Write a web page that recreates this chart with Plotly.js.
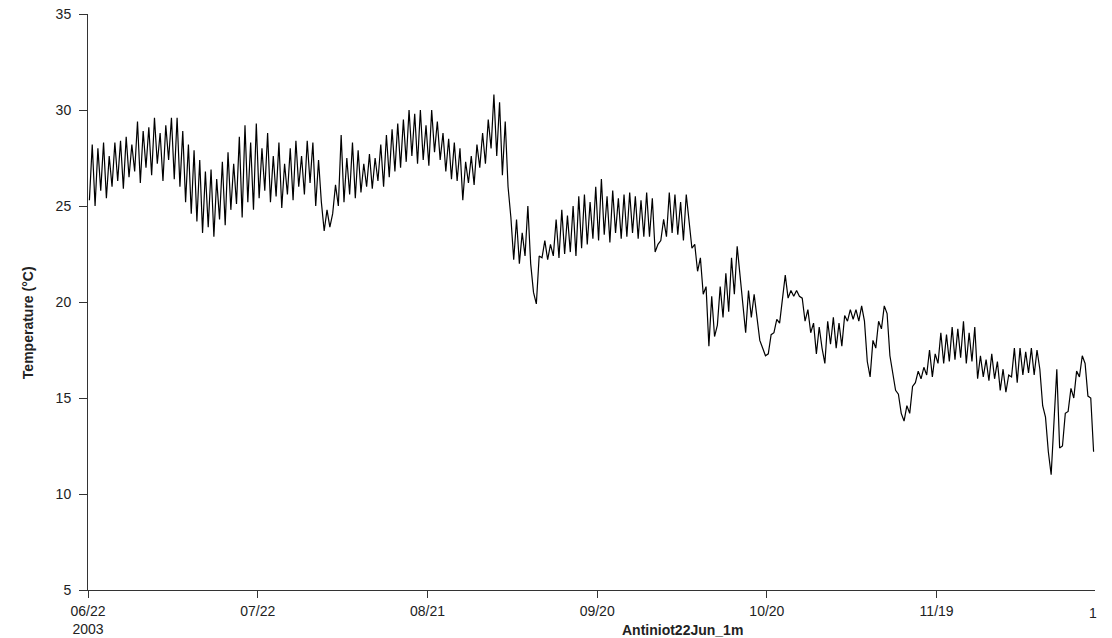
<!DOCTYPE html>
<html>
<head>
<meta charset="utf-8">
<script src="https://cdn.plot.ly/plotly-3.0.1.min.js"></script>
<style>html,body{margin:0;padding:0;background:#fff;}#chart{width:1112px;height:638px;}</style>
</head>
<body>
<div id="chart"></div>
<script>
// Series start and sampling (two readings per day: 06:00 and 18:00)
const startDate = "2003-06-22";
const stepHours = 12;
const firstOffsetHours = 6;

// Temperature (°C), two values per day
const temperature = [
  25.3,28.2, 25.0,28.0, 25.8,28.3, 25.4,27.6, 26.0,28.3,
  26.3,28.4, 25.9,28.6, 26.5,28.2, 26.8,29.4, 26.2,28.9,
  27.0,29.1, 26.6,29.6, 27.2,28.8, 26.3,29.2, 27.4,29.6,
  26.4,29.6, 26.0,28.9, 25.2,28.2, 24.6,27.9, 24.2,27.4,
  23.6,26.8, 23.9,26.9, 23.4,26.4, 24.3,27.3, 24.0,27.8,
  24.8,27.2, 25.1,28.6, 24.4,29.2, 25.2,28.3, 24.8,29.3,
  25.4,28.0, 25.8,28.8, 25.2,27.6, 25.5,28.3, 24.9,27.2,
  25.6,28.0, 25.3,28.4, 26.0,27.6, 25.6,28.4, 26.2,28.3,
  25.0,27.4, 25.2,23.7, 24.8,23.9, 24.6,26.1, 25.0,28.7,
  25.2,27.5, 25.6,28.3, 25.4,27.9, 25.7,27.2, 26.0,27.7,
  25.9,27.5, 26.3,28.2, 26.0,28.7, 26.5,29.0, 26.8,29.3,
  27.0,29.5, 27.3,30.0, 27.6,29.8, 27.2,30.0, 27.4,29.2,
  27.1,30.0, 27.8,29.4, 27.4,28.8, 26.8,28.5, 26.4,28.3,
  26.3,28.0, 25.3,27.3, 26.2,27.6, 26.1,28.2, 27.0,28.8,
  27.2,29.5, 28.0,30.8, 27.6,30.4, 26.6,29.4, 26.0,24.4,
  22.2,24.3, 22.0,23.6, 22.4,25.0, 22.0,20.5, 19.9,22.4,
  22.3,23.2, 22.2,23.0, 22.4,24.3, 22.3,24.8, 22.5,24.5,
  22.6,25.0, 22.4,25.5, 22.8,25.6, 23.0,25.2, 23.3,26.0,
  23.2,26.4, 23.5,25.5, 23.1,25.8, 23.6,25.4, 23.3,25.6,
  23.4,25.7, 23.6,25.5, 23.3,25.3, 23.4,25.7, 23.4,25.4,
  22.6,23.0, 23.2,24.3, 23.4,25.7, 23.6,25.6, 23.5,25.2,
  23.2,25.6, 24.2,22.8, 23.0,21.6, 22.3,20.4, 20.8,17.7,
  20.3,18.2, 18.8,20.8, 19.2,21.5, 19.5,22.3, 20.4,22.9,
  21.4,20.0, 18.4,20.6, 19.2,20.4, 19.3,18.0, 17.6,17.2,
  17.3,18.3, 18.4,19.1, 18.9,20.2, 21.4,20.2, 20.6,20.3,
  20.6,20.3, 20.2,19.0, 19.6,18.4, 18.9,17.3, 18.7,17.6,
  16.8,19.0, 17.8,19.2, 17.6,18.9, 17.7,19.3, 19.0,19.6,
  19.1,19.6, 19.0,19.8, 19.0,16.9, 16.1,18.0, 17.6,19.0,
  18.6,19.8, 19.4,17.2, 16.4,15.4, 15.2,14.2, 13.8,14.6,
  14.2,15.6, 15.8,16.4, 16.0,16.6, 16.2,17.5, 16.1,17.3,
  16.8,18.4, 16.8,18.3, 16.9,18.7, 17.0,18.6, 17.1,19.0,
  16.8,18.4, 16.9,18.7, 16.0,17.2, 16.1,17.0, 15.9,17.3,
  16.0,16.9, 15.4,16.5, 15.3,16.2, 16.1,17.6, 15.8,17.6,
  16.2,17.4, 16.3,17.6, 16.2,17.5, 16.5,14.6, 14.0,12.2,
  11.0,13.8, 16.5,12.4, 12.5,14.2, 14.3,15.5, 15.0,16.4,
  16.1,17.2, 16.8,15.1, 15.0,12.2
];

// Axis ticks
const xTickVals = ["2003-06-22","2003-07-22","2003-08-21","2003-09-20","2003-10-20","2003-11-19"];
const xTickText = ["06/22<br>2003","07/22","08/21","09/20","10/20","11/19"];
const xRange = ["2003-06-22","2003-12-17"];
const yTickVals = [5,10,15,20,25,30,35];

const t0 = new Date(startDate + "T00:00:00Z").getTime();
function iso(ms){ return new Date(ms).toISOString().slice(0,19).replace("T"," "); }
const times = temperature.map((_, i) => iso(t0 + (firstOffsetHours + i*stepHours)*3600000));

const font = {family: "Liberation Sans, Arial, sans-serif", size: 14, color: "#222"};

const data = [{
  x: times, y: temperature, type: "scatter", mode: "lines",
  line: {color: "#000", width: 1.2}, hoverinfo: "x+y"
}];

const layout = {
  width: 1112, height: 638,
  margin: {l: 88, r: 17, t: 14, b: 48},
  paper_bgcolor: "#fff", plot_bgcolor: "#fff",
  font: font, showlegend: false,
  xaxis: {
    type: "date", range: xRange, tickmode: "array", tickvals: xTickVals, ticktext: xTickText,
    showgrid: false, zeroline: false, showline: true, linecolor: "#333", linewidth: 1,
    ticks: "outside", ticklen: 7, tickcolor: "#333", tickfont: font, ticklabelstandoff: 1
  },
  yaxis: {
    range: [5, 35], tickmode: "array", tickvals: yTickVals,
    showgrid: false, zeroline: false, showline: true, linecolor: "#333", linewidth: 1,
    ticks: "outside", ticklen: 8, tickcolor: "#333", tickfont: font, ticklabelstandoff: 5
  },
  annotations: [
    {text: "<b>Antiniot22Jun_1m</b>", xref: "paper", yref: "paper", x: 0.590, y: -0.0694,
     xanchor: "center", yanchor: "middle", showarrow: false, font: font},
    {text: "<b>Temperature (°C)</b>", xref: "paper", yref: "paper", x: -0.0596, y: 0.465,
     xanchor: "center", yanchor: "middle", textangle: -90, showarrow: false, font: font},
    {text: "1", xref: "paper", yref: "paper", x: 0.998, y: -0.040,
     xanchor: "center", yanchor: "middle", showarrow: false, font: font}
  ]
};

Plotly.newPlot("chart", data, layout, {staticPlot: true});
</script>
</body>
</html>
